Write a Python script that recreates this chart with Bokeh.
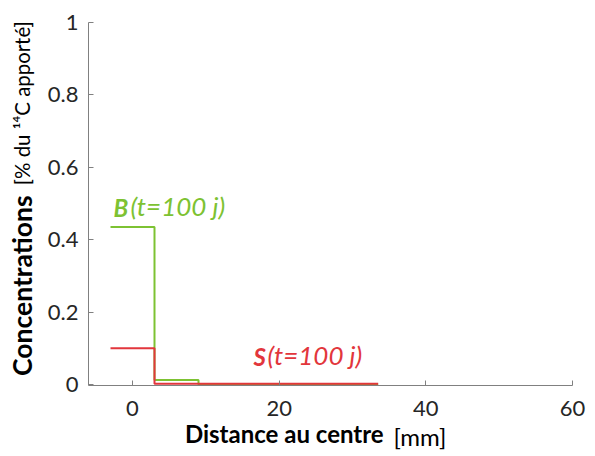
import math
from bokeh.plotting import figure
from bokeh.models import Label, Range1d, FixedTicker, CustomJSTickFormatter, LinearAxis
from bokeh.embed import file_html
from bokeh.resources import INLINE

# data
shell_edges = [-3, 3, 9, 15, 21, 27, 33.5]
B_values = [0.435, 0.012, 0.0, 0.0, 0.0, 0.0]
S_values = [0.10, 0.002, 0.002, 0.002, 0.002, 0.002]
x_ticks = [0, 20, 40, 60]
y_ticks = [0, 0.2, 0.4, 0.6, 0.8, 1.0]
x_title_bold = "Distance au centre"
x_title_unit = "[mm]"
y_title_bold = "Concentrations"
y_title_unit = "[% du \u00b9\u2074C apport\u00e9]"

GREEN = "#7DC232"
RED = "#E2363C"
FONT = "Lato"

p = figure(width=588, height=456, output_backend="svg", toolbar_location=None,
           x_range=Range1d(-6, 60), y_range=Range1d(-0.003, 1.0),
           min_border_left=88, min_border_right=16, min_border_top=22, min_border_bottom=71)
p.outline_line_color = None
p.grid.grid_line_color = None
p.background_fill_color = "white"
p.border_fill_color = "white"

for ax in (p.xaxis[0], p.yaxis[0]):
    ax.axis_line_color = "#808080"
    ax.major_tick_line_color = "#808080"
    ax.major_tick_in = 5
    ax.major_tick_out = 0
    ax.minor_tick_line_color = None
    ax.major_label_text_font = FONT
    ax.major_label_text_font_size = "22px"
    ax.major_label_text_color = "#262626"
p.xaxis[0].ticker = FixedTicker(ticks=x_ticks)
p.yaxis[0].ticker = FixedTicker(ticks=y_ticks)
p.yaxis[0].formatter = CustomJSTickFormatter(code="return String(Math.round(tick*10)/10)")
p.xaxis[0].major_label_standoff = 15
p.yaxis[0].major_label_standoff = 10


def title_axis(pos, text, size, style, standoff, orientation="horizontal"):
    ax = LinearAxis(ticker=FixedTicker(ticks=[pos]),
                    formatter=CustomJSTickFormatter(args=dict(t=text), code="return t"))
    ax.axis_line_color = None
    ax.major_tick_line_color = None
    ax.minor_tick_line_color = None
    ax.major_tick_in = 0
    ax.major_tick_out = 0
    ax.major_label_text_font = FONT
    ax.major_label_text_font_size = size
    ax.major_label_text_font_style = style
    ax.major_label_text_color = "black"
    ax.major_label_standoff = standoff
    ax.major_label_orientation = orientation
    return ax


# x title: bold part, then unit pulled up onto the same line
p.add_layout(title_axis(20.7, x_title_bold, "24px", "bold", 0), "below")
p.add_layout(title_axis(39.2, x_title_unit, "24px", "normal", -29), "below")
# y title
p.add_layout(title_axis(0.273, y_title_bold, "26.5px", "bold", 6, "vertical"), "left")
p.add_layout(title_axis(0.777, y_title_unit, "20.4px", "normal", -31, "vertical"), "left")

xs = list(shell_edges)
p.step(xs, B_values + [B_values[-1]], mode="after", line_color=GREEN, line_width=2)
p.step(xs, S_values + [S_values[-1]], mode="after", line_color=RED, line_width=2)

# series annotations
p.add_layout(Label(x=-2.6, y=0.449, text="B", text_font=FONT, text_font_size="24px",
                   text_font_style="bold italic", text_color=GREEN))
p.add_layout(Label(x=-2.6, y=0.449, x_offset=17, text="(t=100 j)", text_font=FONT,
                   text_font_size="26px", text_font_style="italic", text_color=GREEN))
p.add_layout(Label(x=16.5, y=0.036, text="S", text_font=FONT, text_font_size="24px",
                   text_font_style="bold italic", text_color=RED))
p.add_layout(Label(x=16.5, y=0.036, x_offset=14, text="(t=100 j)", text_font=FONT,
                   text_font_size="26px", text_font_style="italic", text_color=RED))

open("out.html", "w").write(file_html(p, INLINE))
